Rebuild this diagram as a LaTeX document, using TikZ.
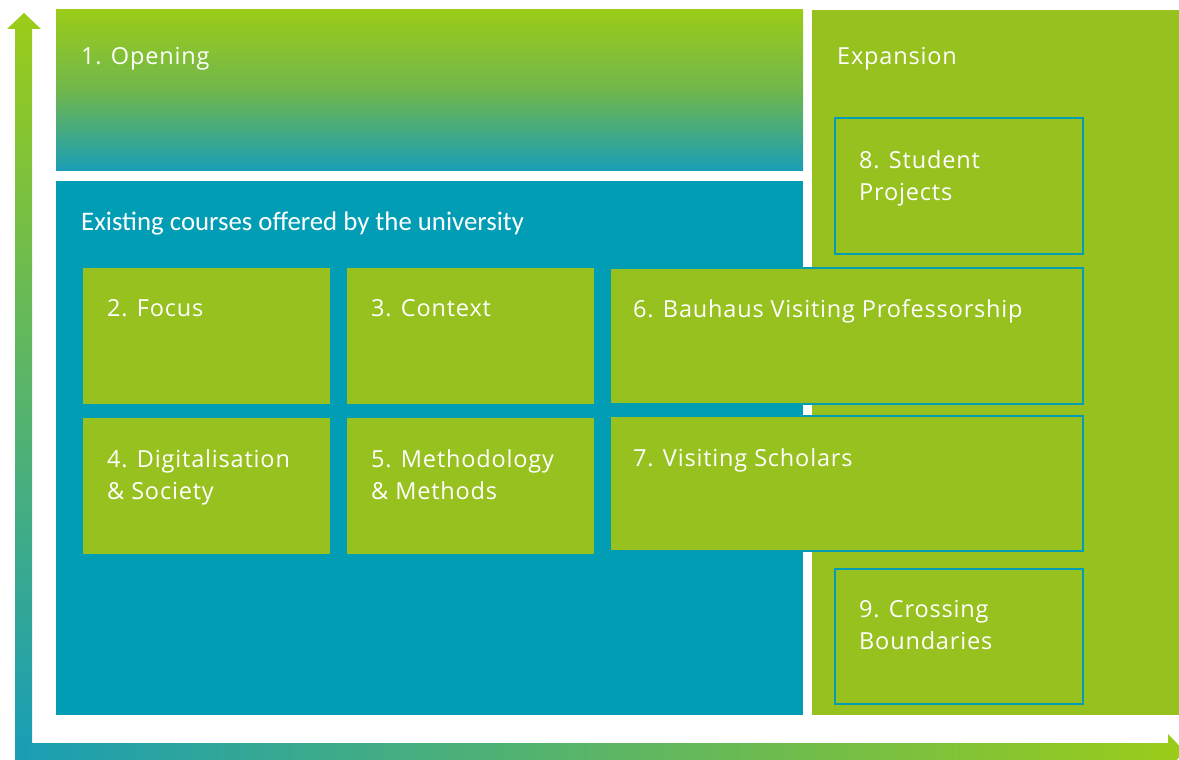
\documentclass[tikz,border=0pt]{standalone}
\usepackage{fontspec}
\setmainfont{Open Sans}[LetterSpace=3.5]
\newfontfamily\calfont{Carlito}
\definecolor{teal1}{RGB}{0,157,181}
\definecolor{green1}{RGB}{150,193,31}
\definecolor{green2}{RGB}{155,204,24}
\definecolor{tealgrad}{RGB}{26,158,181}
\tikzset{
  panel/.style={inner sep=0pt, outer sep=0pt, anchor=north west},
  gbox/.style={panel, fill=green1},
  bbox/.style={panel, fill=green1, draw=teal1, line width=1.2pt},
  lbl/.style={anchor=base west, inner sep=0pt, text=white, font=\fontsize{23.5}{31.5}\selectfont, align=left},
  clbl/.style={anchor=base west, inner sep=0pt, text=white, font=\calfont\fontsize{26.8}{31}\selectfont}
}
\begin{document}
\begin{tikzpicture}[x=1pt,y=-1pt]
\useasboundingbox (0,0) rectangle (1179,760);
\fill[white] (0,0) rectangle (1179,760);
% axes arrows
\shade[top color=green2, bottom color=tealgrad]
  (15,743) -- (15,29) -- (7,29) -- (24,13) -- (41,29) -- (32,29) -- (32,743) -- cycle;
\shade[left color=tealgrad, right color=green2]
  (15,743) -- (1168,743) -- (1168,734) -- (1185,751.5) -- (1168,769) -- (1168,760) -- (15,760) -- cycle;
% panels
\node (open) [panel, minimum width=747pt, minimum height=160pt, top color=green2, bottom color=tealgrad, middle color=green1!70!tealgrad] at (56,10) {};
\node (exp) [gbox, minimum width=367pt, minimum height=705pt] at (812,10) {};
\node (exist) [panel, fill=teal1, minimum width=747pt, minimum height=534pt] at (56,181) {};
% boxes
\node (b8) [bbox, minimum width=248pt, minimum height=136pt] at (835,118) {};
\node (b2) [gbox, minimum width=247pt, minimum height=136pt] at (83,268) {};
\node (b3) [gbox, minimum width=247pt, minimum height=136pt] at (347,268) {};
\node (b6) [bbox, minimum width=473pt, minimum height=136pt] at (610,268) {};
\node (b4) [gbox, minimum width=247pt, minimum height=136pt] at (83,418) {};
\node (b5) [gbox, minimum width=247pt, minimum height=136pt] at (347,418) {};
\node (b7) [bbox, minimum width=473pt, minimum height=135pt] at (610,416) {};
\node (b9) [bbox, minimum width=248pt, minimum height=135pt] at (835,569) {};
% labels
\node (t1) [lbl] at (81,64.5) {1. Opening};
\node (te) [lbl] at (837,64.5) {Expansion};
\node (tx) [clbl] at (81,230) {Existing courses offered by the university};
\node (t2) [lbl] at (107,316.5) {2. Focus};
\node (t3) [lbl] at (371,316.5) {3. Context};
\node (t6) [lbl] at (633,317.5) {6. Bauhaus Visiting Professorship};
\node (t4) [lbl] at (107,499) {4. Digitalisation\\\& Society};
\node (t5) [lbl] at (371,499) {5. Methodology\\\& Methods};
\node (t7) [lbl] at (633,466) {7. Visiting Scholars};
\node (t8) [lbl] at (859,200) {8. Student\\Projects};
\node (t9) [lbl] at (859,649) {9. Crossing\\Boundaries};
\end{tikzpicture}
\end{document}
